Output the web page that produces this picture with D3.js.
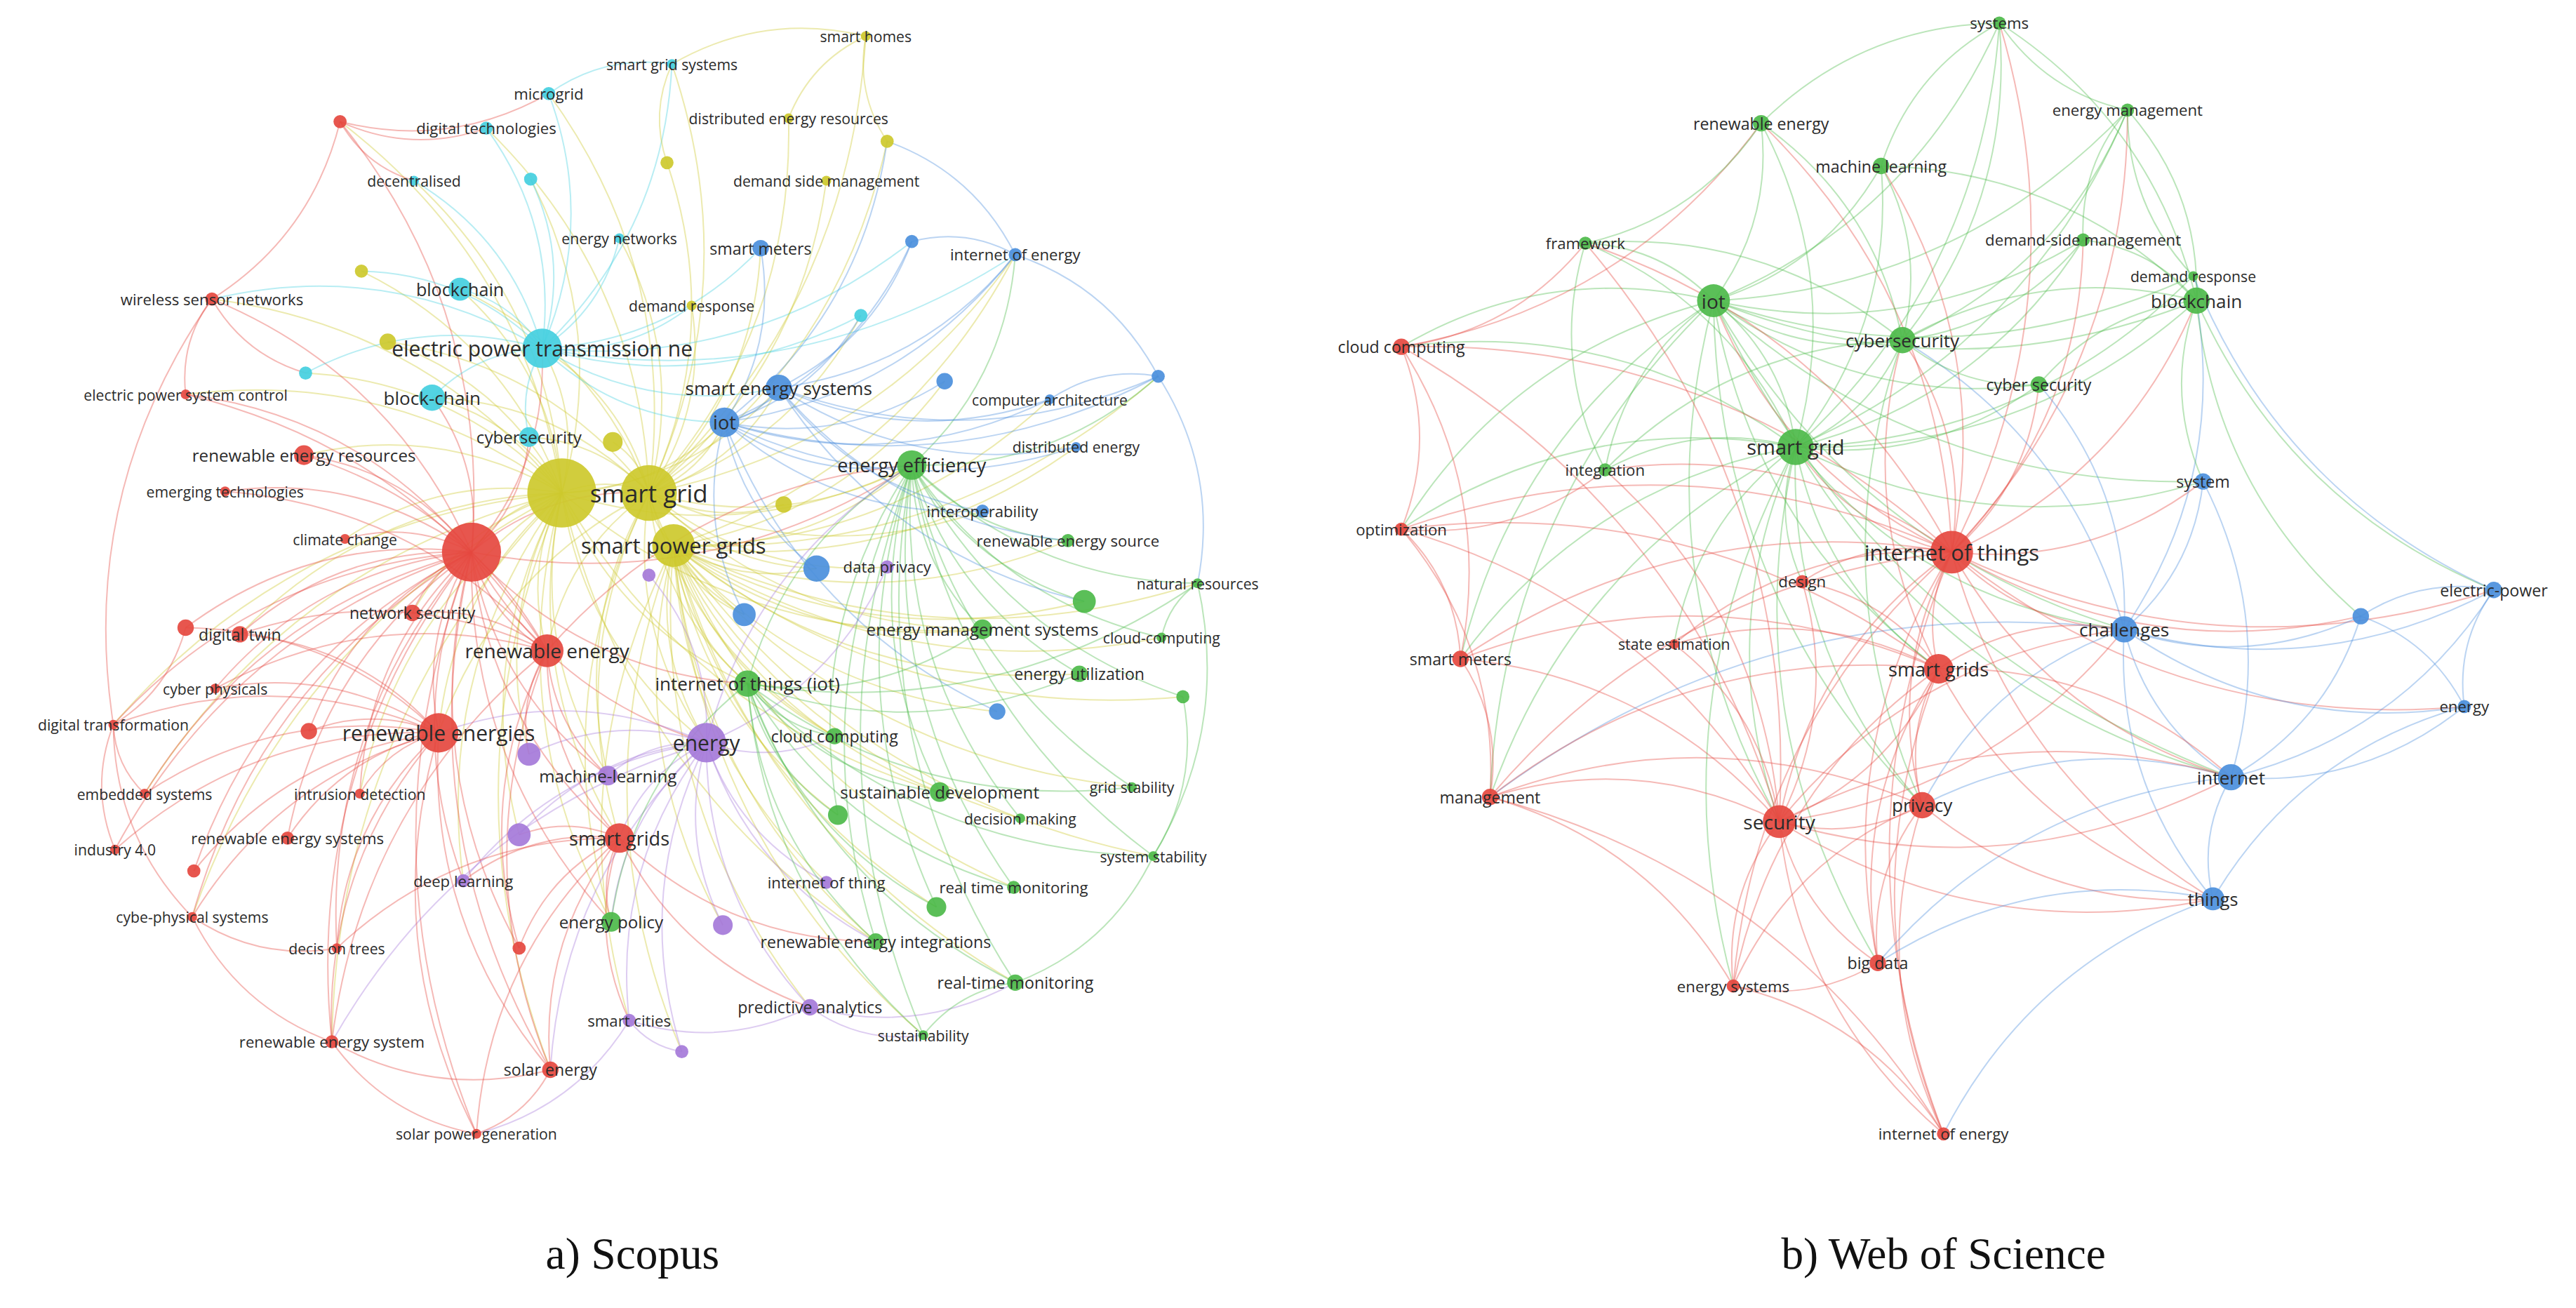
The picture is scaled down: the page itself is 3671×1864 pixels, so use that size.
<!DOCTYPE html>
<html>
<head>
<meta charset="utf-8">
<script src="https://cdn.jsdelivr.net/npm/d3@7"></script>
<style>
  html, body { margin: 0; padding: 0; background: #fff; }
  svg { display: block; }
</style>
</head>
<body>
<div id="chart"></div>
<script>
// keyword co-occurrence maps: Scopus (left) and Web of Science (right)
// node: [key, label, x, y, radius, cluster]  (x/y in the 1568-wide layout space)

const clusterColors = {
  red: '#e5483f', green: '#4dba4a', blue: '#4b8fdc',
  yellow: '#cdc92c', purple: '#a57ad9', cyan: '#44cfe0'
};

const scopusNodes = [
  ['sg', 'smart grid', 395, 300, 17, 'yellow'],
  ['spg', 'smart power grids', 410, 332, 13, 'yellow'],
  ['spgb', '', 342, 300, 21, 'yellow'],
  ['sh', 'smart homes', 527, 22, 3, 'yellow'],
  ['der', 'distributed energy resources', 480, 72, 3, 'yellow'],
  ['dsm', 'demand side management', 503, 110, 3, 'yellow'],
  ['dr', 'demand response', 421, 186, 3, 'yellow'],
  ['y1', '', 406, 99, 4, 'yellow'],
  ['y2', '', 220, 165, 4, 'yellow'],
  ['y3', '', 236, 208, 5, 'yellow'],
  ['y4', '', 540, 86, 4, 'yellow'],
  ['y5', '', 373, 269, 6, 'yellow'],
  ['y6', '', 477, 307, 5, 'yellow'],
  ['sgs', 'smart grid systems', 409, 39, 3, 'cyan'],
  ['mg', 'microgrid', 334, 57, 4, 'cyan'],
  ['dt', 'digital technologies', 296, 78, 4, 'cyan'],
  ['dec', 'decentralised', 252, 110, 3, 'cyan'],
  ['en', 'energy networks', 377, 145, 3, 'cyan'],
  ['bc', 'blockchain', 280, 176, 7, 'cyan'],
  ['ept', 'electric power transmission ne', 330, 212, 12, 'cyan'],
  ['bch', 'block-chain', 263, 242, 8, 'cyan'],
  ['cs', 'cybersecurity', 322, 266, 6, 'cyan'],
  ['c1', '', 323, 109, 4, 'cyan'],
  ['c2', '', 186, 227, 4, 'cyan'],
  ['c3', '', 524, 192, 4, 'cyan'],
  ['sm', 'smart meters', 463, 151, 5, 'blue'],
  ['ioe', 'internet of energy', 618, 155, 4, 'blue'],
  ['ses', 'smart energy systems', 474, 236, 8, 'blue'],
  ['iot', 'iot', 441, 257, 9, 'blue'],
  ['ca', 'computer architecture', 639, 243, 3, 'blue'],
  ['de', 'distributed energy', 655, 272, 3, 'blue'],
  ['io', 'interoperability', 598, 311, 4, 'blue'],
  ['b1', '', 555, 147, 4, 'blue'],
  ['b2', '', 705, 229, 4, 'blue'],
  ['b3', '', 497, 346, 8, 'blue'],
  ['b4', '', 453, 374, 7, 'blue'],
  ['b5', '', 607, 433, 5, 'blue'],
  ['b6', '', 575, 232, 5, 'blue'],
  ['ee', 'energy efficiency', 555, 283, 9, 'green'],
  ['resc', 'renewable energy source', 650, 329, 4, 'green'],
  ['nr', 'natural resources', 729, 355, 3, 'green'],
  ['ems', 'energy management systems', 598, 383, 6, 'green'],
  ['ccg', 'cloud-computing', 707, 388, 3, 'green'],
  ['iotg', 'internet of things (iot)', 455, 416, 8, 'green'],
  ['eu', 'energy utilization', 657, 410, 5, 'green'],
  ['cc', 'cloud computing', 508, 448, 5, 'green'],
  ['sd', 'sustainable development', 572, 482, 6, 'green'],
  ['gs', 'grid stability', 689, 479, 3, 'green'],
  ['dm', 'decision making', 621, 498, 3, 'green'],
  ['ss', 'system stability', 702, 521, 3, 'green'],
  ['rtm', 'real time monitoring', 617, 540, 4, 'green'],
  ['rei', 'renewable energy integrations', 533, 573, 5, 'green'],
  ['rtm2', 'real-time monitoring', 618, 598, 5, 'green'],
  ['sus', 'sustainability', 562, 630, 3, 'green'],
  ['ep', 'energy policy', 372, 561, 6, 'green'],
  ['g1', '', 660, 366, 7, 'green'],
  ['g2', '', 720, 424, 4, 'green'],
  ['g3', '', 510, 496, 6, 'green'],
  ['g4', '', 570, 552, 6, 'green'],
  ['dp', 'data privacy', 540, 345, 4, 'purple'],
  ['ene', 'energy', 430, 452, 12, 'purple'],
  ['ml', 'machine-learning', 370, 472, 6, 'purple'],
  ['dl', 'deep learning', 282, 536, 4, 'purple'],
  ['iott', 'internet of thing', 503, 537, 4, 'purple'],
  ['pa', 'predictive analytics', 493, 613, 5, 'purple'],
  ['sc', 'smart cities', 383, 621, 4, 'purple'],
  ['p1', '', 322, 459, 7, 'purple'],
  ['p2', '', 316, 508, 7, 'purple'],
  ['p3', '', 440, 563, 6, 'purple'],
  ['p4', '', 415, 640, 4, 'purple'],
  ['p5', '', 395, 350, 4, 'purple'],
  ['rb', '', 287, 336, 18, 'red'],
  ['wsn', 'wireless sensor networks', 129, 182, 4, 'red'],
  ['epsc', 'electric power system control', 113, 240, 3, 'red'],
  ['rer', 'renewable energy resources', 185, 277, 6, 'red'],
  ['et', 'emerging technologies', 137, 299, 3, 'red'],
  ['ccl', 'climate change', 210, 328, 3, 'red'],
  ['ns', 'network security', 251, 373, 5, 'red'],
  ['re', 'renewable energy', 333, 396, 10, 'red'],
  ['dtw', 'digital twin', 146, 386, 5, 'red'],
  ['cp', 'cyber physicals', 131, 419, 3, 'red'],
  ['dtr', 'digital transformation', 69, 441, 3, 'red'],
  ['res2', 'renewable energies', 267, 446, 12, 'red'],
  ['es', 'embedded systems', 88, 483, 3, 'red'],
  ['id', 'intrusion detection', 219, 483, 3, 'red'],
  ['i40', 'industry 4.0', 70, 517, 3, 'red'],
  ['ress', 'renewable energy systems', 175, 510, 4, 'red'],
  ['sgr', 'smart grids', 377, 510, 9, 'red'],
  ['cps', 'cybe-physical systems', 117, 558, 3, 'red'],
  ['dot', 'decis on trees', 205, 577, 3, 'red'],
  ['rsy', 'renewable energy system', 202, 634, 4, 'red'],
  ['se', 'solar energy', 335, 651, 5, 'red'],
  ['spg2', 'solar power generation', 290, 690, 3, 'red'],
  ['r1', '', 207, 74, 4, 'red'],
  ['r2', '', 113, 382, 5, 'red'],
  ['r3', '', 188, 445, 5, 'red'],
  ['r4', '', 118, 530, 4, 'red'],
  ['r5', '', 316, 577, 4, 'red']
];

// [source, [targets...]]
const scopusLinks = [
  ['sg', ['spg', 'spgb', 'ept', 'iot', 'ses', 'ee', 're', 'res2', 'ene', 'sgr', 'rb', 'bc', 'bch', 'cs', 'sm', 'dr', 'der', 'dsm', 'sh', 'y1', 'y3', 'y5', 'y6', 'mg', 'sgs', 'dt', 'en', 'iotg', 'ems', 'cc', 'ml', 'ep', 'b3', 'b4', 'io', 'dp', 'ioe', 'c3', 'y4']],
  ['spgb', ['rb', 'ept', 'bch', 'bc', 're', 'res2', 'ene', 'sgr', 'iotg', 'ee', 'y2', 'y3', 'rer', 'ccl', 'ns', 'dtw', 'id', 'ml', 'p1', 'p2', 'dl', 'ep', 'se', 'rsy', 'iot', 'ses', 'ems', 'sd', 'rei', 'dec', 'c2', 'wsn', 'epsc', 'r1', 'c1', 'dtr', 'es', 'cps']],
  ['spg', ['ee', 'ems', 'g1', 'resc', 'nr', 'eu', 'sd', 'cc', 'iotg', 'ene', 'b3', 'b4', 'b5', 'gs', 'dm', 'ss', 'rtm', 'rtm2', 'sus', 'rei', 'g3', 'g4', 'pa', 'iott', 'p3', 'ioe', 'ca', 'de', 'b2', 'b6', 'ccg', 'g2', 'sc', 'p4']],
  ['rb', ['re', 'res2', 'ns', 'ccl', 'et', 'rer', 'epsc', 'wsn', 'dtw', 'cp', 'dtr', 'es', 'i40', 'r2', 'r3', 'r4', 'cps', 'dot', 'ress', 'id', 'rsy', 'se', 'spg2', 'r1', 'r5', 'sgr', 'ept', 'bch', 'ml', 'dl', 'ep', 'ene', 'cs', 'iotg', 'ee']],
  ['ept', ['bc', 'bch', 'cs', 'dec', 'dt', 'mg', 'sgs', 'c1', 'c2', 'c3', 'en', 'iot', 'ses', 'sm', 'b1', 'dr', 'y2', 'wsn', 'ioe']],
  ['ee', ['resc', 'nr', 'ems', 'ccg', 'eu', 'gs', 'ss', 'rtm', 'rtm2', 'sus', 'g1', 'g2', 'g3', 'g4', 'sd', 'dm', 'rei', 'iotg', 'ioe', 'b2', 'ene', 're']],
  ['ene', ['ml', 'dl', 'iott', 'pa', 'sc', 'p1', 'p2', 'p3', 'p4', 'p5', 'dp', 'sgr', 'ep', 'rei', 'cc', 'res2', 'rsy', 'se']],
  ['res2', ['r3', 'ress', 'i40', 'es', 'cps', 'dot', 'rsy', 'id', 'dtr', 'cp', 'se', 'r4', 'spg2', 'dtw', 'r2']],
  ['iot', ['sm', 'ses', 'ioe', 'ca', 'de', 'io', 'b1', 'b2', 'b3', 'b4', 'b5', 'b6', 'ee', 'y4', 'c3']],
  ['iotg', ['cc', 'sd', 'rtm', 'eu', 'ems', 'g3', 'g4', 'rei', 'rtm2', 'sus', 'ep', 'gs', 'ss', 'nr']],
  ['re', ['sgr', 'ns', 'dtw', 'rer', 'ml', 'p1', 'se', 'rsy', 'cp', 'et', 'epsc', 'r5']],
  ['sgr', ['dl', 'p2', 'ep', 'r5', 'se', 'spg2', 'dot', 'pa', 'rei', 'sc']],
  ['ses', ['ioe', 'b1', 'b2', 'ca', 'de', 'io', 'resc', 'g1']],
  // outer arcs around the map
  ['wsn', ['r1', 'epsc', 'dtr', 'c2']],
  ['r1', ['dt', 'dec', 'mg']],
  ['dtr', ['es', 'i40', 'cps', 'r2']],
  ['cps', ['rsy', 'dot']],
  ['rsy', ['spg2', 'se']],
  ['spg2', ['se', 'sc']],
  ['sc', ['p4', 'pa']],
  ['pa', ['sus', 'rtm2']],
  ['rtm2', ['ss', 'sus']],
  ['ss', ['g2', 'nr']],
  ['nr', ['b2', 'ccg']],
  ['b2', ['ioe', 'ca']],
  ['ioe', ['b1', 'y4']],
  ['sh', ['y4', 'sgs', 'der']],
  ['sgs', ['mg', 'y1']]
];

const wosNodes = [
  ['sys', 'systems', 1217, 14, 4, 'green'],
  ['rew', 'renewable energy', 1072, 75, 5, 'green'],
  ['mlw', 'machine learning', 1145, 101, 5, 'green'],
  ['emw', 'energy management', 1295, 67, 4, 'green'],
  ['fw', 'framework', 965, 148, 4, 'green'],
  ['dsmw', 'demand-side management', 1268, 146, 4, 'green'],
  ['drw', 'demand response', 1335, 168, 3, 'green'],
  ['iotw', 'iot', 1043, 183, 10, 'green'],
  ['bcw', 'blockchain', 1337, 183, 8, 'green'],
  ['csw', 'cybersecurity', 1158, 207, 8, 'green'],
  ['cs2w', 'cyber security', 1241, 234, 5, 'green'],
  ['sgw', 'smart grid', 1093, 272, 11, 'green'],
  ['intw', 'integration', 977, 286, 4, 'green'],
  ['ccw', 'cloud computing', 853, 211, 5, 'red'],
  ['opw', 'optimization', 853, 322, 4, 'red'],
  ['itw', 'internet of things', 1188, 336, 13, 'red'],
  ['desw', 'design', 1097, 354, 4, 'red'],
  ['sew', 'state estimation', 1019, 392, 3, 'red'],
  ['smw', 'smart meters', 889, 401, 5, 'red'],
  ['sgrw', 'smart grids', 1180, 407, 9, 'red'],
  ['mgw', 'management', 907, 485, 5, 'red'],
  ['secw', 'security', 1083, 500, 10, 'red'],
  ['prw', 'privacy', 1170, 490, 8, 'red'],
  ['bdw', 'big data', 1143, 586, 5, 'red'],
  ['esw', 'energy systems', 1055, 600, 4, 'red'],
  ['ioew', 'internet of energy', 1183, 690, 4, 'red'],
  ['sysw', 'system', 1341, 293, 5, 'blue'],
  ['chw', 'challenges', 1293, 383, 8, 'blue'],
  ['epw', 'electric-power', 1518, 359, 5, 'blue'],
  ['enw', 'energy', 1500, 430, 4, 'blue'],
  ['inw', 'internet', 1358, 473, 8, 'blue'],
  ['thw', 'things', 1347, 547, 7, 'blue'],
  ['b1w', '', 1437, 375, 5, 'blue']
];

const wosLinks = [
  ['sgw', ['sys', 'rew', 'mlw', 'emw', 'fw', 'dsmw', 'drw', 'iotw', 'bcw', 'csw', 'cs2w', 'intw', 'itw', 'sgrw', 'secw', 'prw', 'chw', 'sysw', 'mgw', 'smw', 'opw', 'ccw', 'desw', 'sew', 'inw', 'bdw', 'esw']],
  ['iotw', ['sys', 'rew', 'mlw', 'emw', 'fw', 'dsmw', 'drw', 'bcw', 'csw', 'cs2w', 'intw', 'itw', 'sgrw', 'secw', 'prw', 'ccw', 'opw', 'chw', 'inw', 'sysw', 'smw', 'mgw']],
  ['itw', ['ccw', 'opw', 'desw', 'sew', 'smw', 'sgrw', 'mgw', 'secw', 'prw', 'bdw', 'esw', 'ioew', 'chw', 'inw', 'thw', 'sysw', 'epw', 'enw', 'b1w', 'csw', 'cs2w', 'bcw', 'mlw', 'rew', 'sys', 'emw', 'fw', 'intw', 'dsmw']],
  ['secw', ['prw', 'sgrw', 'mgw', 'smw', 'bdw', 'esw', 'ioew', 'opw', 'ccw', 'chw', 'inw', 'thw', 'intw', 'fw', 'desw', 'sew']],
  ['chw', ['sysw', 'epw', 'enw', 'inw', 'thw', 'b1w', 'prw', 'sgrw', 'bcw', 'csw', 'cs2w', 'secw', 'mgw']],
  ['inw', ['thw', 'epw', 'enw', 'sysw', 'b1w', 'prw', 'sgrw', 'bdw', 'secw']],
  ['bcw', ['dsmw', 'drw', 'emw', 'csw', 'cs2w', 'sysw', 'sys', 'mlw', 'epw', 'b1w']],
  ['csw', ['cs2w', 'mlw', 'rew', 'sys', 'emw', 'dsmw', 'sgrw', 'prw', 'fw', 'intw']],
  ['sgrw', ['prw', 'mgw', 'smw', 'opw', 'desw', 'sew', 'bdw', 'esw', 'ioew', 'thw']],
  ['prw', ['bdw', 'esw', 'mgw', 'thw', 'ioew']],
  // outer arcs around the map
  ['sys', ['emw', 'rew', 'mlw']],
  ['emw', ['drw', 'dsmw']],
  ['drw', ['epw']],
  ['epw', ['enw', 'b1w']],
  ['enw', ['thw', 'b1w']],
  ['thw', ['ioew', 'bdw']],
  ['ioew', ['esw', 'mgw']],
  ['esw', ['mgw', 'bdw']],
  ['mgw', ['smw', 'opw']],
  ['smw', ['opw', 'ccw']],
  ['opw', ['ccw', 'intw']],
  ['ccw', ['fw', 'rew']],
  ['fw', ['rew', 'intw']]
];

const captions = [['a) Scopus', 385], ['b) Web of Science', 1183]];

const W = 3671, H = 1864;
const x = d3.scaleLinear().domain([0, 1568]).range([0, W]);
const y = d3.scaleLinear().domain([0, 796]).range([0, H]);
const k = W / 1568;

const svg = d3.select('#chart').append('svg')
  .attr('width', W).attr('height', H);

function drawMap(nodes, links) {
  const byKey = new Map(nodes.map(d => [d[0], d]));
  const edges = [];
  links.forEach(([s, ts]) => ts.forEach(t => {
    if (byKey.has(s) && byKey.has(t)) edges.push([byKey.get(s), byKey.get(t)]);
  }));

  const g = svg.append('g');
  g.selectAll('path.edge').data(edges).enter().append('path')
    .attr('fill', 'none')
    .attr('stroke', d => clusterColors[d[1][4] > d[0][4] ? d[1][5] : d[0][5]])
    .attr('stroke-opacity', 0.38)
    .attr('stroke-width', 2)
    .attr('d', d => {
      const x1 = x(d[0][2]), y1 = y(d[0][3]), x2 = x(d[1][2]), y2 = y(d[1][3]);
      const mx = (x1 + x2) / 2, my = (y1 + y2) / 2;
      const dx = x2 - x1, dy = y2 - y1;
      const cx = mx - dy * 0.2, cy = my + dx * 0.2;
      return `M${x1},${y1}Q${cx},${cy} ${x2},${y2}`;
    });

  g.selectAll('circle').data(nodes).enter().append('circle')
    .attr('cx', d => x(d[2])).attr('cy', d => y(d[3]))
    .attr('r', d => d[4] * k)
    .attr('fill', d => clusterColors[d[5]])
    .attr('fill-opacity', 0.92);

  g.selectAll('text').data(nodes.filter(d => d[1])).enter().append('text')
    .attr('x', d => x(d[2])).attr('y', d => y(d[3]))
    .attr('text-anchor', 'middle')
    .attr('dominant-baseline', 'central')
    .attr('font-family', '"Open Sans", sans-serif')
    .attr('font-size', d => (7.8 + d[4] * 0.42) * k)
    .attr('fill', '#2b2b2b')
    .text(d => d[1]);
}

drawMap(scopusNodes, scopusLinks);
drawMap(wosNodes, wosLinks);

svg.selectAll('text.caption').data(captions).enter().append('text')
  .attr('class', 'caption')
  .attr('x', d => x(d[1])).attr('y', y(772))
  .attr('text-anchor', 'middle')
  .attr('font-family', '"Liberation Serif", serif')
  .attr('font-size', 27 * k)
  .attr('fill', '#111')
  .text(d => d[0]);
</script>
</body>
</html>
